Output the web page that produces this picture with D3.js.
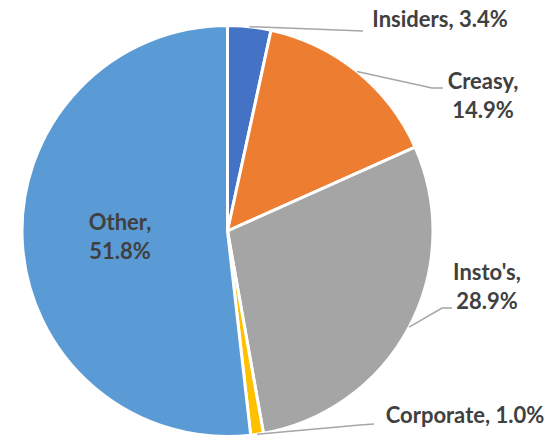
<!DOCTYPE html>
<html>
<head>
<meta charset="utf-8">
<script src="https://cdn.jsdelivr.net/npm/d3@7"></script>
<style>
  html, body { margin: 0; padding: 0; background: #fff; }
  svg { display: block; }
  text { font-family: Lato, "Open Sans", sans-serif; font-weight: bold; fill: #404040; }
</style>
</head>
<body>
<svg id="chart" width="546" height="437"></svg>
<script>
// Shareholder breakdown (percent of issued capital)
const categories = ["Insiders", "Creasy", "Insto's", "Corporate", "Other"];
const shares = [3.4, 14.9, 28.9, 1.0, 51.8];
const colors = ["#4472C4", "#ED7D31", "#A5A5A5", "#FFC000", "#5B9BD5"];

const W = 546, H = 437;
const cx = 227.5, cy = 231, R = 205.5;
const fontSize = 22, lineGap = 29;

// Label placement: text anchor point (centre of first baseline), and leader elbow
const labelLayout = {
  "Insiders":  { x: 440, y: 27,  lines: 1, elbow: null, end: [363, 31] },
  "Creasy":    { x: 483, y: 89,  lines: 2, elbow: [432, 88], end: [443, 88] },
  "Insto's":   { x: 487, y: 280, lines: 2, elbow: [442, 308], end: [452, 308] },
  "Corporate": { x: 465, y: 423, lines: 1, elbow: [360, 425], end: [374, 424] },
  "Other":     { x: 120, y: 230, lines: 2, inside: true }
};

const svg = d3.select("#chart");
const g = svg.append("g").attr("transform", `translate(${cx},${cy})`);

const data = categories.map((c, i) => ({ name: c, value: shares[i], color: colors[i] }));
const pie = d3.pie().value(d => d.value).sort(null);
const arc = d3.arc().innerRadius(0).outerRadius(R);
const arcs = pie(data);

g.selectAll("path.slice")
  .data(arcs)
  .join("path")
  .attr("class", "slice")
  .attr("d", arc)
  .attr("fill", d => d.data.color)
  .attr("stroke", "#fff")
  .attr("stroke-width", 3)
  .attr("stroke-linejoin", "round");

// Leader lines from the slice edge to the label
const edgePoint = a => {
  const m = (a.startAngle + a.endAngle) / 2;
  return [cx + R * Math.sin(m), cy - R * Math.cos(m)];
};

arcs.forEach(a => {
  const L = labelLayout[a.data.name];
  if (L.inside) return;
  const p0 = edgePoint(a);
  const pts = [p0];
  if (L.elbow) pts.push(L.elbow);
  pts.push(L.end);
  svg.append("path")
    .attr("d", d3.line()(pts))
    .attr("fill", "none")
    .attr("stroke", "#A6A6A6")
    .attr("stroke-width", 1.5);
});

// Labels: "Name, value%"
arcs.forEach(a => {
  const L = labelLayout[a.data.name];
  const pct = a.data.value.toFixed(1) + "%";
  const lines = L.lines === 1 ? [`${a.data.name}, ${pct}`] : [`${a.data.name},`, pct];
  const t = svg.append("text")
    .attr("text-anchor", "middle")
    .attr("font-size", fontSize);
  lines.forEach((s, i) => {
    t.append("tspan").attr("x", L.x).attr("y", L.y + i * lineGap).text(s);
  });
});
</script>
</body>
</html>
